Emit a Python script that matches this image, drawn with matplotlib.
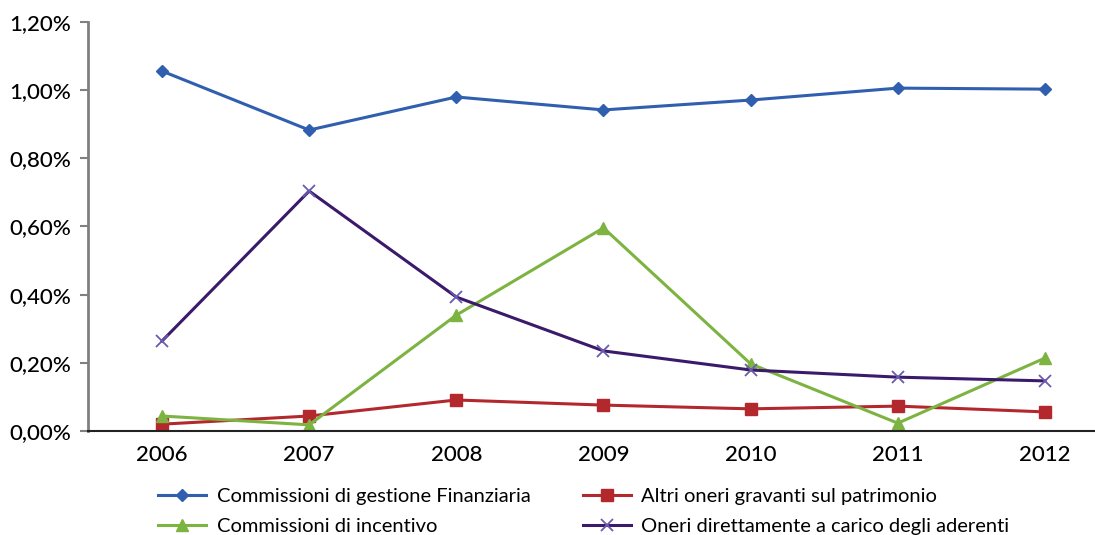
import matplotlib
matplotlib.use("Agg")
import matplotlib.pyplot as plt
from matplotlib.ticker import FuncFormatter

years = ["2006", "2007", "2008", "2009", "2010", "2011", "2012"]
gestione = [1.056, 0.883, 0.980, 0.942, 0.971, 1.006, 1.003]
altri_oneri = [0.020, 0.044, 0.091, 0.076, 0.065, 0.073, 0.056]
incentivo = [0.044, 0.018, 0.340, 0.596, 0.197, 0.023, 0.214]
oneri_aderenti = [0.264, 0.704, 0.393, 0.235, 0.179, 0.158, 0.147]

labels = [
    "Commissioni di gestione Finanziaria",
    "Altri oneri gravanti sul patrimonio",
    "Commissioni di incentivo",
    "Oneri direttamente a carico degli aderenti",
]

plt.rcParams["font.family"] = ["Lato", "DejaVu Sans"]

fig = plt.figure(figsize=(10.95, 5.35), dpi=100)
ax = fig.add_axes([88 / 1095, 104 / 535, 1007 / 1095, 409 / 535])

x = list(range(len(years)))
l1, = ax.plot(x, gestione, color="#2F5FAE", lw=2.2, marker="D", ms=6.5, label=labels[0])
l2, = ax.plot(x, altri_oneri, color="#B3282D", lw=2.2, marker="s", ms=8, label=labels[1])
l3, = ax.plot(x, incentivo, color="#7DB340", lw=2.2, marker="^", ms=9, label=labels[2])
l4, = ax.plot(x, oneri_aderenti, color="#3B1A6B", lw=2.2, marker="x", ms=9, mew=1.3,
              mec="#6A5AB0", label=labels[3])

ax.set_xlim(-0.503, 6.34)
ax.set_ylim(0, 1.2)
ax.set_yticks([0, 0.2, 0.4, 0.6, 0.8, 1.0, 1.2])
ax.yaxis.set_major_formatter(FuncFormatter(lambda v, p: f"{v:.2f}%".replace(".", ",")))
ax.set_xticks(x)
ax.set_xticklabels(years)

for s in ["top", "right"]:
    ax.spines[s].set_visible(False)
ax.spines["left"].set_color("#808080")
ax.spines["left"].set_linewidth(2)
ax.spines["bottom"].set_color("#222222")
ax.spines["bottom"].set_linewidth(1.5)
ax.tick_params(axis="y", length=6, width=1.5, color="#808080", labelsize=16, pad=6)
ax.tick_params(axis="x", length=0, labelsize=16, pad=10)
for t in ax.get_xticklabels() + ax.get_yticklabels():
    t.set_fontweight("medium")

# column-wise fill: put handles in order so rows read gestione/altri, incentivo/aderenti
fig.legend(handles=[l1, l3, l2, l4], ncol=2, loc="upper left",
           bbox_to_anchor=(140 / 1095, 1 - 470 / 535), frameon=False,
           fontsize=14.5, handlelength=2.4, columnspacing=2.6, labelspacing=0.65,
           handletextpad=0.5)

fig.savefig("out.png", dpi=100)
